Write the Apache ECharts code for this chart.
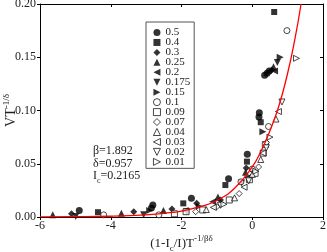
<!DOCTYPE html>
<html><head><meta charset="utf-8">
<script src="https://cdn.jsdelivr.net/npm/echarts@6/dist/echarts.min.js"></script>
<style>html,body{margin:0;padding:0;background:#fff}#c{width:327px;height:252px}</style>
</head><body><div id="c"></div>
<script>
// ---- data ----
const seriesNames = ['0.5','0.4','0.3','0.25','0.2','0.175','0.15','0.1','0.09','0.07','0.04','0.03','0.02','0.01'];
const xTicks = [-6, -4, -2, 0, 2];
const yTicks = [0.00, 0.05, 0.10, 0.15, 0.20];

const s_050 = [[-4.89,0.006],[-2.85,0.0085],[-2.81,0.0113],[-1.72,0.0175],[-0.67,0.036],[-0.14,0.059],[0.19,0.094],[0.20,0.098],[0.35,0.133],[0.42,0.135],[0.48,0.137]];
const s_040 = [[-4.36,0.0045],[-1.95,0.0128],[-0.76,0.030],[-0.15,0.052],[0.24,0.089],[0.62,0.1925]];
const s_030 = [[-5.11,0.003],[-3.35,0.005],[-2.27,0.0075],[-1.57,0.0128],[-0.9,0.016],[-0.17,0.046],[0.55,0.138]];
const s_025 = [[-5.64,0.002],[-3.7,0.0035],[-2.51,0.006],[-0.97,0.0188],[-0.19,0.042],[0.6,0.141]];
const s_020 = [[-1.9,0.006],[-1.12,0.0144],[-0.13,0.037],[0.63,0.137]];
const s_0175 = [[-4.99,0.0005],[-3.07,0.002],[-1.85,0.005],[-0.3,0.032],[0.71,0.145]];
const s_015 = [[-2.9,0.006],[-1.5,0.010],[0.3,0.080],[0.79,0.150]];
const s_010 = [[-4.2,0.002],[-2.64,0.002],[-0.32,0.033],[0.0,0.045],[0.46,0.085],[0.98,0.175]];
const s_009 = [[-2.2,0.003],[-1.87,0.005],[-1.4,0.0066],[-0.65,0.016],[-0.08,0.035],[0.08,0.041],[0.31,0.060],[0.37,0.068]];
const s_007 = [[-1.6,0.005],[-1.0,0.0097],[-0.37,0.022],[0.18,0.047],[0.4,0.070]];
const s_004 = [[-1.3,0.007],[-0.5,0.018],[0.0,0.040],[0.24,0.054],[0.67,0.092]];
const s_003 = [[-1.1,0.009],[-0.23,0.028],[0.3,0.060],[0.74,0.099]];
const s_002 = [[-0.9,0.011],[-0.1,0.034],[0.4,0.065],[0.84,0.108]];
const s_001 = [[-0.8,0.012],[0.1,0.043],[0.5,0.075],[1.25,0.149]];
const fitCurve = [[-6,0.0002],[-5,0.0003],[-4,0.0007],[-3,0.002],[-2.5,0.0035],[-2,0.0055],[-1.5,0.0095],[-1,0.0155],[-0.5,0.027],[0,0.047],[0.25,0.062],[0.5,0.081],[0.75,0.104],[1,0.135],[1.2,0.166],[1.38,0.2]];
const params = ['β=1.892','δ=0.957'];
const icLabel = ['I','c','=0.2165'];

const seriesData = [s_050,s_040,s_030,s_025,s_020,s_0175,s_015,s_010,s_009,s_007,s_004,s_003,s_002,s_001];

// ---- styles ----
const TRI_UP = 'path://M5,0 L10,10 L0,10 Z';
const TRI_DN = 'path://M0,0 L10,0 L5,10 Z';
const TRI_LT = 'path://M0,5 L10,0 L10,10 Z';
const TRI_RT = 'path://M0,0 L10,5 L0,10 Z';
const sym = [
  ['circle',true,7],['rect',true,6],['diamond',true,7],[TRI_UP,true,7],
  [TRI_LT,true,7],[TRI_DN,true,7],[TRI_RT,true,7],
  ['circle',false,6],['rect',false,6],['diamond',false,6],[TRI_UP,false,6],
  [TRI_LT,false,6],[TRI_DN,false,6],[TRI_RT,false,6]
];
const FONT = 'Liberation Serif';
const fillStyle = {color:'#000'};
const openStyle = {color:'#fff', borderColor:'#000', borderWidth:0.9};

const series = seriesNames.map((n,i)=>({
  name:n, type:'scatter', data:seriesData[i],
  symbol:sym[i][0], symbolSize:sym[i][2],
  itemStyle: sym[i][1] ? fillStyle : openStyle,
  z:3
}));
series.push({
  type:'line', data:fitCurve, smooth:true, showSymbol:false, symbol:'none',
  lineStyle:{color:'#ff0000', width:1.3}, z:4, silent:true
});

const legendData = seriesNames.map((n,i)=>({
  name:n, icon:sym[i][0],
  itemStyle: sym[i][1] ? {color:'#000', borderWidth:0} : {color:'#fff', borderColor:'#000', borderWidth:0.9}
}));

const axisBase = {
  type:'value', axisLine:{show:true,onZero:false,lineStyle:{color:'#000',width:1}},
  splitLine:{show:false}, nameMoveOverlap:false
};

const chart = echarts.init(document.getElementById('c'), null, {renderer:'canvas'});
chart.setOption({
  animation:false,
  backgroundColor:'#fff',
  grid:{left:40,right:4,top:4,bottom:35,containLabel:false,outerBoundsMode:'none'},
  xAxis:[
    Object.assign({}, axisBase, {min:xTicks[0], max:xTicks[xTicks.length-1], interval:2, position:'bottom',
      axisTick:{inside:false,length:3,lineStyle:{color:'#000'}},
      axisLabel:{fontFamily:FONT,fontSize:12,color:'#222',margin:3},
      name:'{n|(1-I}{b|c}{n|/I)T}{t|-1/βδ}', nameLocation:'middle', nameGap:17,
      nameTextStyle:{fontFamily:FONT,color:'#222',rich:{
        n:{fontFamily:FONT,fontSize:13,color:'#222',lineHeight:16,verticalAlign:'bottom'},
        b:{fontFamily:FONT,fontSize:9,color:'#222',lineHeight:16,verticalAlign:'bottom',padding:[0,0,-3,0]},
        t:{fontFamily:FONT,fontSize:9,color:'#222',lineHeight:16,verticalAlign:'top'}
      }}}),
    Object.assign({}, axisBase, {min:xTicks[0], max:xTicks[xTicks.length-1], interval:2, position:'top',
      axisTick:{inside:true,length:3,lineStyle:{color:'#000'}}, axisLabel:{show:false}})
  ],
  yAxis:[
    Object.assign({}, axisBase, {min:yTicks[0], max:yTicks[yTicks.length-1], interval:0.05, position:'left',
      axisTick:{inside:false,length:3,lineStyle:{color:'#000'}},
      axisLabel:{fontFamily:FONT,fontSize:12,color:'#222',margin:4,formatter:v=>v.toFixed(2)},
      name:'{n|VT}{t|-1/δ}', nameLocation:'middle', nameGap:22,
      nameTextStyle:{fontFamily:FONT,color:'#222',rich:{
        n:{fontFamily:FONT,fontSize:14,color:'#222',lineHeight:16,verticalAlign:'bottom'},
        t:{fontFamily:FONT,fontSize:9,color:'#222',lineHeight:16,verticalAlign:'top'}
      }}}),
    Object.assign({}, axisBase, {min:yTicks[0], max:yTicks[yTicks.length-1], interval:0.05, position:'right',
      axisTick:{inside:true,length:3,lineStyle:{color:'#000'}}, axisLabel:{show:false}})
  ],
  legend:{
    data:legendData, orient:'vertical', left:146, top:22,
    padding:[5,4,1,7], itemGap:-1.05, itemWidth:7, itemHeight:7, itemTextGap:12,
    borderColor:'#555', borderWidth:1, backgroundColor:'#fff',
    textStyle:{fontFamily:FONT,fontSize:11,color:'#222',lineHeight:9.8},
    selectedMode:false
  },
  graphic:[
    {type:'text', left:93, top:145, style:{text:params[0], font:'12px "Liberation Serif"', fill:'#222'}},
    {type:'text', left:93, top:158, style:{text:params[1], font:'12px "Liberation Serif"', fill:'#222'}},
    {type:'text', left:93, top:170, style:{text:'{n|'+icLabel[0]+'}{b|'+icLabel[1]+'}{n|'+icLabel[2]+'}', fill:'#222',
      rich:{n:{fontFamily:FONT,fontSize:12,lineHeight:14,verticalAlign:'bottom',fill:'#222'},
            b:{fontFamily:FONT,fontSize:8,lineHeight:14,verticalAlign:'bottom',padding:[0,0,-3,0],fill:'#222'}}}}
  ],
  series:series
});
</script></body></html>
